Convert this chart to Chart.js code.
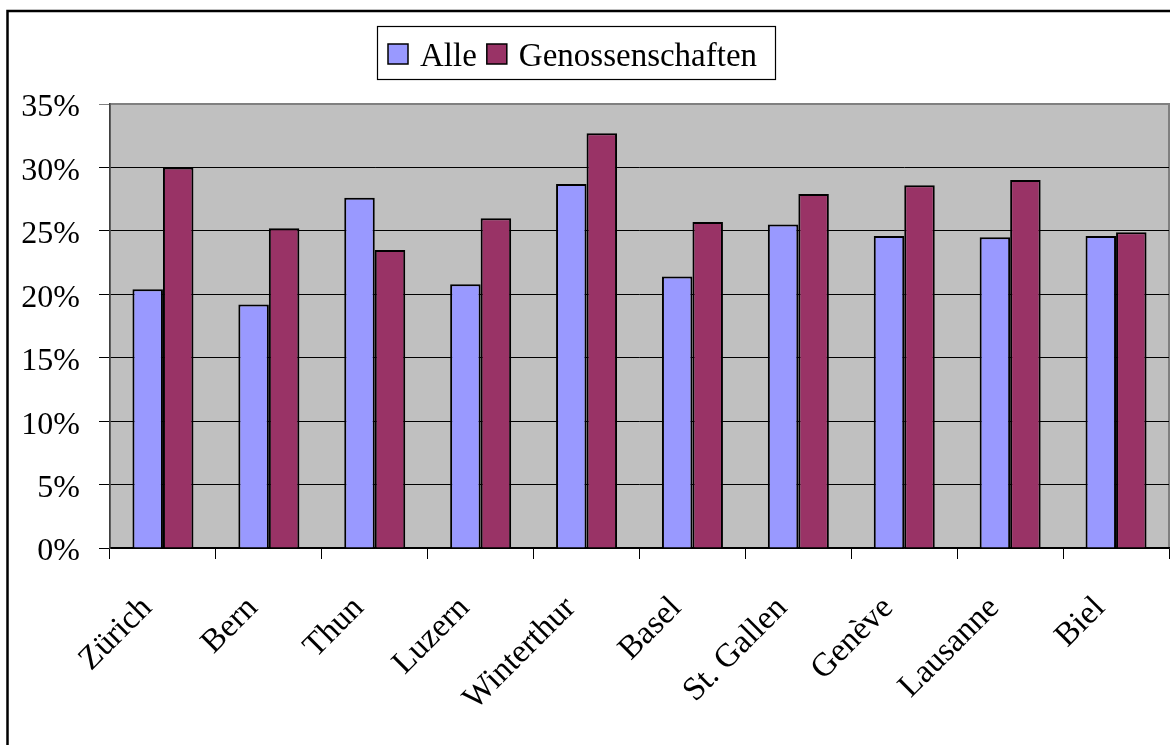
<!DOCTYPE html>
<html>
<head>
<meta charset="utf-8">
<script src="https://cdn.jsdelivr.net/npm/chart.js@4.4.1/dist/chart.umd.min.js"></script>
<style>
  html, body { margin: 0; padding: 0; background: #fff; }
  #wrap { width: 1170px; height: 745px; }
</style>
</head>
<body>
<div id="wrap"><canvas id="c" width="1170" height="745"></canvas></div>
<script>
// Städte
const categories = ['Zürich', 'Bern', 'Thun', 'Luzern', 'Winterthur', 'Basel', 'St. Gallen', 'Genève', 'Lausanne', 'Biel'];
// Anteil in Prozent
const alle = [20.4, 19.2, 27.6, 20.8, 28.7, 21.4, 25.5, 24.6, 24.5, 24.6];
const genossenschaften = [30.0, 25.2, 23.5, 26.0, 32.7, 25.7, 27.9, 28.6, 29.0, 24.9];
const seriesNames = ['Alle', 'Genossenschaften'];
const yTicks = [0, 5, 10, 15, 20, 25, 30, 35];

const FONT = '"Liberation Serif", "Times New Roman", serif';

// White page, outer frame, grey plot background
const backdrop = {
  id: 'backdrop',
  beforeDraw(chart) {
    const { ctx, chartArea: a } = chart;
    ctx.save();
    ctx.fillStyle = '#fff';
    ctx.fillRect(0, 0, chart.width, chart.height);
    ctx.strokeStyle = '#000';
    ctx.lineWidth = 2.5;
    ctx.beginPath();
    ctx.moveTo(7.5, chart.height);
    ctx.lineTo(7.5, 11);
    ctx.lineTo(chart.width, 11);
    ctx.stroke();
    ctx.fillStyle = '#C0C0C0';
    ctx.fillRect(a.left, a.top, a.right - a.left, a.bottom - a.top);
    ctx.strokeStyle = '#808080';
    ctx.lineWidth = 2;
    ctx.strokeRect(a.left, a.top, a.right - a.left, a.bottom - a.top);
    ctx.restore();
  }
};

// Boxed legend above the plot
const boxedLegend = {
  id: 'boxedLegend',
  afterDraw(chart) {
    const { ctx } = chart;
    const sets = chart.data.datasets;
    ctx.save();
    ctx.font = '33px ' + FONT;
    ctx.textBaseline = 'alphabetic';
    const sq = 20, gapSq = 12, gapItem = 10, padL = 11;
    const bx = 377, by = 26, bw = 398, bh = 53;
    ctx.fillStyle = '#fff';
    ctx.fillRect(bx, by, bw, bh);
    ctx.strokeStyle = '#000';
    ctx.lineWidth = 1.2;
    ctx.strokeRect(bx + 0.5, by + 0.5, bw, bh);
    let x = bx + padL;
    sets.forEach((ds) => {
      ctx.fillStyle = ds.backgroundColor;
      ctx.fillRect(x, 44, sq, sq);
      ctx.strokeStyle = '#000';
      ctx.lineWidth = 1.5;
      ctx.strokeRect(x, 44, sq, sq);
      x += sq + gapSq;
      ctx.fillStyle = '#000';
      ctx.fillText(ds.label, x, 66);
      x += ctx.measureText(ds.label).width + gapItem;
    });
    ctx.restore();
  }
};

new Chart(document.getElementById('c'), {
  type: 'bar',
  data: {
    labels: categories,
    datasets: [
      { label: seriesNames[0], data: alle, backgroundColor: '#9999FF', borderColor: '#000', borderWidth: 2 },
      { label: seriesNames[1], data: genossenschaften, backgroundColor: '#993366', borderColor: '#000', borderWidth: 2 }
    ]
  },
  options: {
    responsive: false,
    animation: false,
    devicePixelRatio: 1,
    layout: { padding: { top: 104, right: 1, bottom: 0, left: 0 } },
    datasets: { bar: { barPercentage: 1, categoryPercentage: 0.576 } },
    plugins: {
      legend: { display: false },
      tooltip: { enabled: false }
    },
    scales: {
      x: {
        grid: { display: true, drawOnChartArea: false, drawTicks: true, tickLength: 11, color: '#000', offset: true },
        border: { display: true, color: '#000', width: 1.5 },
        ticks: {
          color: '#000',
          font: { family: FONT, size: 33 },
          minRotation: 45, maxRotation: 45,
          padding: 30,
          labelOffset: -16,
          autoSkip: false
        },
        afterFit(scale) {
          scale.height = 197;
          scale.paddingLeft = 0;
          scale.paddingRight = 0;
        }
      },
      y: {
        min: 0, max: 35,
        afterBuildTicks(scale) {
          scale.ticks = yTicks.map(v => ({ value: v }));
        },
        grid: {
          color: (c) => (c.tick && c.tick.value === 35 ? '#808080' : '#000'),
          lineWidth: 1,
          tickLength: 11,
          drawTicks: true
        },
        border: { display: true, color: '#404040', width: 1.5 },
        ticks: {
          color: '#000',
          font: { family: FONT, size: 32 },
          padding: 19,
          labelOffset: 4,
          callback: (v) => v + '%'
        },
        afterFit(scale) {
          scale.width = 110;
        }
      }
    }
  },
  plugins: [backdrop, boxedLegend]
});
</script>
</body>
</html>
